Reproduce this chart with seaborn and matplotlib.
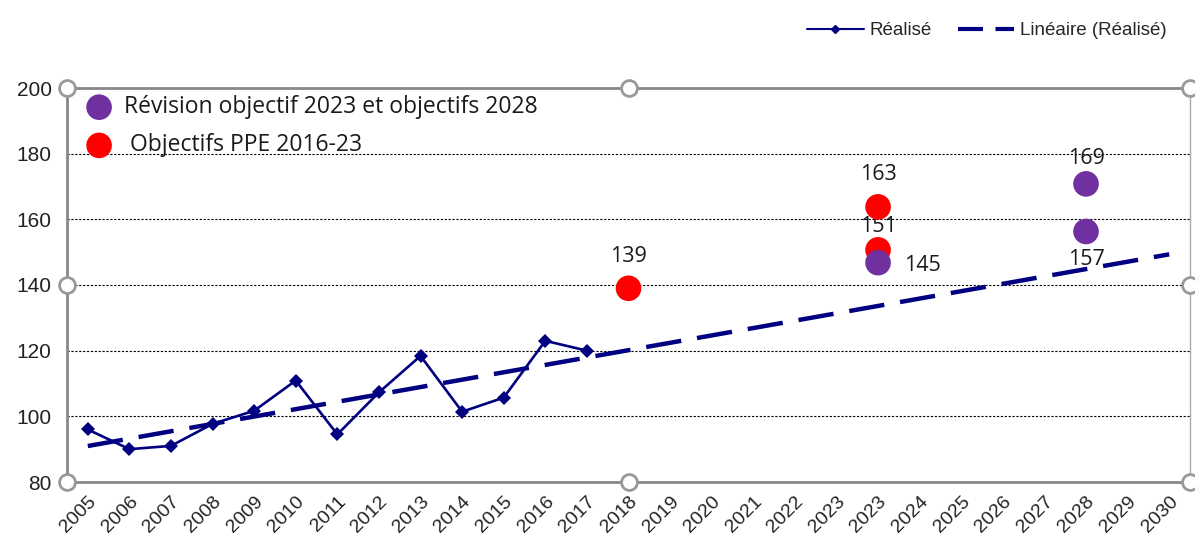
import numpy as np
import pandas as pd
import matplotlib
matplotlib.use("Agg")
import matplotlib.pyplot as plt
from matplotlib.lines import Line2D
import seaborn as sns

# Categories on the x axis (2023 appears twice in the source chart)
x_labels = ["2005", "2006", "2007", "2008", "2009", "2010", "2011", "2012", "2013",
            "2014", "2015", "2016", "2017", "2018", "2019", "2020", "2021", "2022",
            "2023", "2023", "2024", "2025", "2026", "2027", "2028", "2029", "2030"]

# Réalisé 2005-2017
realise_years = ["2005", "2006", "2007", "2008", "2009", "2010", "2011", "2012",
                 "2013", "2014", "2015", "2016", "2017"]
realise_values = [96, 90, 91, 97.7, 101.7, 110.9, 94.5, 107.3, 118.4, 101.4, 105.7, 123, 120]

# Objectifs PPE 2016-23 (red)
ppe_pos = [13, 19, 19]
ppe_values = [139, 163.8, 150.7]
ppe_labels = ["139", "163", "151"]

# Révision objectif 2023 et objectifs 2028 (purple)
rev_pos = [19, 24, 24]
rev_values = [146.8, 170.8, 156.3]
rev_labels = ["145", "169", "157"]

navy = "#000080"
red = "#FF0000"
purple = "#7030A0"
grey = "#888888"

sns.set_style("white")
plt.rcParams['font.family'] = ['Liberation Sans', 'DejaVu Sans']

fig = plt.figure(figsize=(11.95, 5.40), dpi=100)
ax = fig.add_axes([67 / 1195, 1 - 482 / 540, (1190 - 67) / 1195, (482 - 88) / 540])

df_real = pd.DataFrame({"x": range(len(realise_years)), "y": realise_values})

# trend line (linear fit of Réalisé, extended to the end of the axis)
coef = np.polyfit(df_real["x"], df_real["y"], 1)
trend_x = np.arange(len(x_labels))
df_trend = pd.DataFrame({"x": trend_x, "y": np.polyval(coef, trend_x)})

sns.lineplot(data=df_trend, x="x", y="y", ax=ax, color=navy, lw=3.2,
             dashes=False, zorder=3).lines[-1].set_dashes((8, 3.6))
sns.lineplot(data=df_real, x="x", y="y", ax=ax, color=navy, lw=1.9,
             marker="D", markersize=7.5, markeredgewidth=0, zorder=4)

df_ppe = pd.DataFrame({"x": ppe_pos, "y": ppe_values})
df_rev = pd.DataFrame({"x": rev_pos, "y": rev_values})
sns.scatterplot(data=df_ppe, x="x", y="y", ax=ax, color=red, s=340,
                edgecolor="none", zorder=5, label=" Objectifs PPE 2016-23")
sns.scatterplot(data=df_rev, x="x", y="y", ax=ax, color=purple, s=340,
                edgecolor="none", zorder=6, label="Révision objectif 2023 et objectifs 2028")

lab_font = dict(family=["Open Sans", "DejaVu Sans"], fontsize=15.5, color="#1a1a1a")
ppe_off = [(0, 23), (0, 23), (0, 17)]
rev_off = [(32, -2), (0, 18), (0, -20)]
for xp, yv, t, o in zip(ppe_pos, ppe_values, ppe_labels, ppe_off):
    ax.annotate(t, (xp, yv), xytext=o, textcoords="offset points",
                ha="center", va="center", **lab_font)
for xp, yv, t, o in zip(rev_pos, rev_values, rev_labels, rev_off):
    ax.annotate(t, (xp, yv), xytext=o, textcoords="offset points",
                ha="center", va="center", **lab_font)

# axes
ax.set_xlim(-0.5, len(x_labels) - 0.5)
ax.set_ylim(80, 200)
ax.set_yticks(range(80, 201, 20))
ax.set_xticks(range(len(x_labels)))
ax.set_xticklabels(x_labels, rotation=45, ha="right", rotation_mode="anchor")
ax.set_xticks(np.arange(0.5, len(x_labels) - 1, 1), minor=True)
ax.tick_params(axis="x", which="major", length=0, pad=8, labelsize=14, labelcolor="#222222")
ax.tick_params(axis="x", which="minor", length=5, width=1.2, color=grey, direction="out")
ax.tick_params(axis="y", length=5, width=1.2, color=grey, direction="out",
               labelsize=15, labelcolor="#222222", pad=6)
ax.set_xlabel("")
ax.set_ylabel("")

for y in range(100, 200, 20):
    ax.axhline(y, color="black", lw=0.8, ls=(0, (2, 1.5)), zorder=1)

for side in ["left", "bottom", "top"]:
    ax.spines[side].set_color(grey)
    ax.spines[side].set_linewidth(2)
ax.spines["right"].set_color("#aaaaaa")
ax.spines["right"].set_linewidth(1)

# selection handles of the chart object
hx = [0, 0.5, 1, 0, 1, 0, 0.5, 1]
hy = [1, 1, 1, 0.5, 0.5, 0, 0, 0]
ax.scatter(hx, hy, transform=ax.transAxes, s=130, facecolor="white",
           edgecolor="#999999", linewidth=2, zorder=10, clip_on=False)

# legend for the dots (top left)
handles, labels = ax.get_legend_handles_labels()
leg = ax.legend(handles[::-1], labels[::-1], loc="upper left", frameon=False,
                prop={"family": ["Open Sans", "DejaVu Sans"], "size": 16.5},
                handletextpad=0.1, borderaxespad=0.0, labelspacing=0.62,
                bbox_to_anchor=(0.0, 1.005))
for t in leg.get_texts():
    t.set_color("#1a1a1a")

# legend for the lines (top right)
line_handles = [
    Line2D([], [], color=navy, lw=1.5, marker="D", markersize=4),
    Line2D([], [], color=navy, lw=3, dashes=(6, 3)),
]
fig.legend(line_handles, ["Réalisé", "Linéaire (Réalisé)"], loc="upper right",
           bbox_to_anchor=(0.99, 0.99), ncol=2, frameon=False,
           prop={"size": 13.5}, handlelength=3.0, columnspacing=1.4, handletextpad=0.3)

fig.savefig("out.png", dpi=100, facecolor="white")
